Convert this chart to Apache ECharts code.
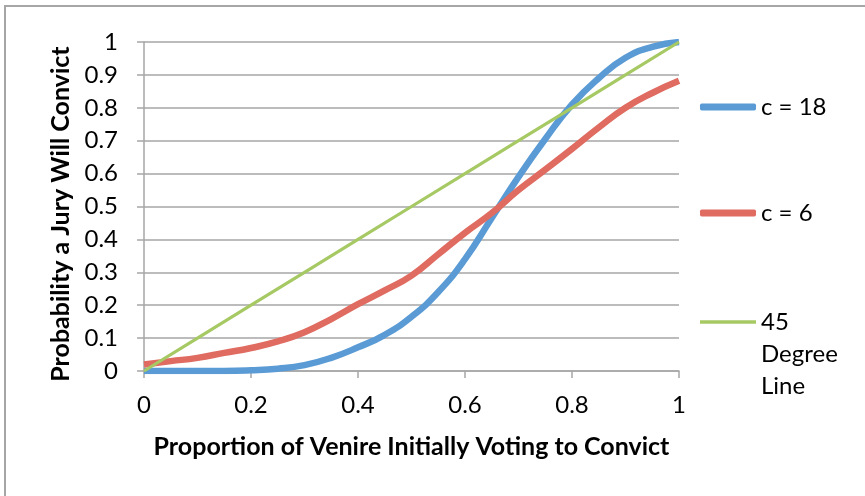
<!DOCTYPE html>
<html>
<head>
<meta charset="utf-8">
<script src="https://cdn.jsdelivr.net/npm/echarts@6/dist/echarts.min.js"></script>
<style>
  html, body { margin: 0; padding: 0; background: #fff; }
  #chart { width: 865px; height: 496px; }
</style>
</head>
<body>
<div id="chart"></div>
<script>
// proportion of venire initially voting to convict
const xValues = [0, 0.05, 0.1, 0.15, 0.2, 0.25, 0.3, 0.35, 0.4, 0.45, 0.5, 0.55, 0.6, 0.65, 0.7, 0.75, 0.8, 0.85, 0.9, 0.95, 1]
const c18 = [0, 0, 0, 0, 0.002, 0.007, 0.018, 0.04, 0.072, 0.11, 0.165, 0.24, 0.34, 0.465, 0.59, 0.705, 0.81, 0.89, 0.952, 0.985, 1]
const c6 = [0.02, 0.03, 0.04, 0.055, 0.07, 0.09, 0.118, 0.158, 0.203, 0.245, 0.29, 0.355, 0.42, 0.48, 0.55, 0.612, 0.675, 0.74, 0.8, 0.845, 0.882]
const degreeX = [0, 0.1, 0.2, 0.3, 0.4, 0.5, 0.6, 0.7, 0.8, 0.9, 1]
const degree45 = [0, 0.1, 0.2, 0.3, 0.4, 0.5, 0.6, 0.7, 0.8, 0.9, 1]

const font = 'Lato, "Open Sans", sans-serif'
const gray = '#a6a6a6'

function pairs (xs, ys) {
  return xs.map((x, i) => [x, ys[i]])
}

const chart = echarts.init(document.getElementById('chart'))
chart.setOption({
  backgroundColor: '#fff',
  animation: false,
  textStyle: { fontFamily: font },
  graphic: [{
    type: 'rect',
    shape: { x: 5, y: 6, width: 900, height: 600 },
    style: { fill: 'none', stroke: gray, lineWidth: 2 },
    silent: true
  }],
  grid: { left: 144, right: 186, top: 42, bottom: 125 },
  legend: [
    {
      left: 700, top: 95, padding: 0, itemWidth: 56, itemHeight: 7, icon: 'roundRect', itemGap: 4,
      textStyle: { fontSize: 24, color: '#000', fontFamily: font },
      data: ['c = 18']
    },
    {
      left: 700, top: 201, padding: 0, itemWidth: 56, itemHeight: 7, icon: 'roundRect',
      textStyle: { fontSize: 24, color: '#000', fontFamily: font },
      data: ['c = 6']
    },
    {
      left: 700, top: 242, padding: 0, itemWidth: 56, itemHeight: 3.5, icon: 'rect',
      textStyle: { fontSize: 24, color: '#000', fontFamily: font, lineHeight: 32 },
      formatter: () => ' \n \n45\nDegree\nLine',
      data: ['45 Degree Line']
    }
  ],
  xAxis: {
    type: 'value',
    min: 0,
    max: 1,
    interval: 0.2,
    name: 'Proportion of Venire Initially Voting to Convict',
    nameLocation: 'middle',
    nameGap: 63,
    nameTextStyle: { fontSize: 25, fontWeight: 'bold', color: '#000', fontFamily: font },
    axisLine: { lineStyle: { color: gray, width: 1.5 } },
    axisTick: { show: true, length: 7, lineStyle: { color: gray, width: 1.5 } },
    axisLabel: { fontSize: 24, color: '#000', margin: 22, fontFamily: font },
    splitLine: { show: false }
  },
  yAxis: {
    type: 'value',
    min: 0,
    max: 1,
    interval: 0.1,
    name: 'Probability a Jury Will Convict',
    nameLocation: 'middle',
    nameGap: 69,
    nameTextStyle: { fontSize: 25, fontWeight: 'bold', color: '#000', fontFamily: font, padding: [0, 15, 0, 0] },
    axisLine: { show: true, lineStyle: { color: gray, width: 1.5 } },
    axisTick: { show: true, length: 7, lineStyle: { color: gray, width: 1.5 } },
    axisLabel: { fontSize: 24, color: '#000', margin: 26, fontFamily: font },
    splitLine: { show: true, lineStyle: { color: gray, width: 1.5 } }
  },
  series: [
    {
      name: 'c = 18',
      type: 'line',
      smooth: true,
      showSymbol: false,
      lineStyle: { color: '#5b9bd5', width: 6.5 },
      itemStyle: { color: '#5b9bd5' },
      data: pairs(xValues, c18)
    },
    {
      name: 'c = 6',
      type: 'line',
      smooth: true,
      showSymbol: false,
      lineStyle: { color: '#df6b61', width: 6.5 },
      itemStyle: { color: '#df6b61' },
      data: pairs(xValues, c6)
    },
    {
      name: '45 Degree Line',
      type: 'line',
      showSymbol: false,
      lineStyle: { color: '#a6c964', width: 3.2 },
      itemStyle: { color: '#a6c964' },
      data: pairs(degreeX, degree45)
    }
  ]
})
</script>
</body>
</html>
